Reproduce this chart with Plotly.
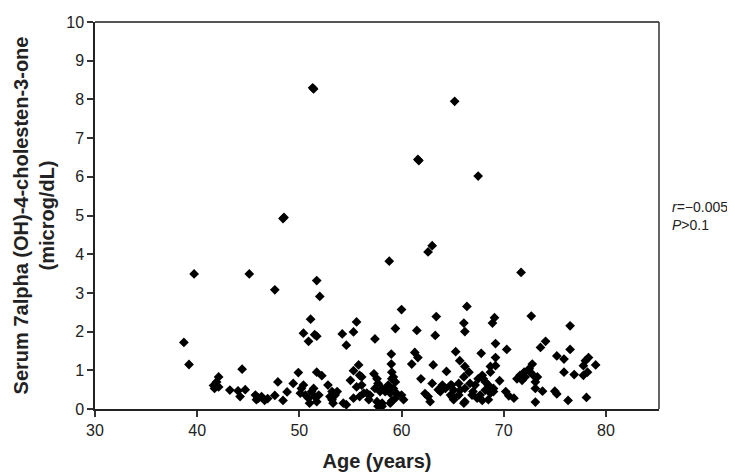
import plotly.graph_objects as go

# Age (years)
age = [
    38.7, 39.2, 39.7, 41.6, 41.7, 41.9, 42.1, 42.1, 43.2, 44.0, 44.4, 44.2, 44.7,
    45.1, 45.7, 45.8, 46.0, 46.3, 46.6, 46.9, 47.6, 47.6, 47.9, 48.4, 48.5, 48.4,
    48.8, 49.4, 49.9,
    50.2, 50.6, 50.9, 51.2, 51.4, 50.4, 50.1, 51.0, 51.7, 51.9, 51.5,
    50.4, 50.9, 51.1, 51.5, 51.7, 51.7, 52.0, 51.7, 52.2, 51.3, 51.4,
    52.8, 53.2, 53.0, 53.5, 53.7, 53.3, 53.2, 54.3, 54.6,
    54.2, 54.6, 55.3, 55.6, 55.8, 55.3, 56.1, 55.0, 55.6, 55.9, 55.3, 56.6, 56.9,
    55.9, 56.1, 56.3, 56.8,
    57.4, 57.3, 57.6, 57.4, 57.9, 58.1, 57.7, 57.7, 57.6, 58.1, 58.1, 58.4,
    58.8, 59.0, 59.0, 59.05, 59.2, 59.4, 58.7, 58.4, 58.9, 59.5, 60.0, 60.2,
    59.05, 59.05, 59.2, 59.4, 58.9, 59.4, 60.0,
    61.0, 61.3, 61.6, 61.5, 61.9, 62.3, 62.6, 62.8, 61.6, 61.7, 62.6, 63.0,
    63.0, 63.1, 63.3, 63.4, 64.4, 65.2, 65.3, 65.7, 66.2, 66.6, 66.1, 66.4, 66.1, 66.2,
    63.8, 64.3, 64.8, 65.1, 65.6, 65.75, 66.2, 66.7, 67.2, 67.5, 67.9, 68.2,
    64.8, 65.6, 66.2, 66.9, 64.9, 65.1, 66.1, 63.6, 64.0, 65.0, 67.0, 67.4, 67.9,
    67.5, 67.8, 68.0, 68.5, 68.2, 68.7, 69.0, 68.5, 67.7,
    68.7, 69.2, 69.2, 68.9, 69.1, 69.6, 70.3, 70.2, 70.5, 71.0, 71.7, 72.7, 73.6,
    74.1, 75.2, 75.9, 76.5, 76.5, 78.3, 78.0, 77.8, 79.0, 78.2, 77.8, 75.9, 76.9,
    73.1, 73.8, 75.0, 75.2, 76.3, 78.1, 73.1, 69.0, 69.2, 68.7,
    72.8, 72.5, 72.6, 72.9, 73.3, 73.1, 72.0, 71.6, 71.3, 71.8, 72.1,
]

# Serum 7alpha (OH)-4-cholesten-3-one (microg/dL)
value = [
    1.72, 1.15, 3.49, 0.61, 0.53, 0.70, 0.83, 0.57, 0.49, 0.47, 1.03, 0.32, 0.50,
    3.49, 0.36, 0.24, 0.28, 0.32, 0.22, 0.27, 3.08, 0.35, 0.70, 4.92, 4.95, 0.22,
    0.44, 0.66, 0.94,
    0.53, 0.36, 0.28, 0.45, 0.53, 0.62, 0.41, 0.15, 0.19, 0.36, 0.32,
    1.96, 1.75, 2.32, 1.92, 1.88, 3.32, 2.91, 0.95, 0.86, 8.30, 8.27,
    0.62, 0.45, 0.32, 0.36, 0.45, 0.15, 0.24, 0.15, 0.11,
    1.94, 1.65, 1.99, 2.25, 1.14, 0.99, 0.83, 0.74, 0.57, 0.32, 0.28, 0.41, 0.36,
    0.87, 0.62, 0.41, 0.24,
    1.81, 0.91, 0.78, 0.53, 0.45, 0.15, 0.07, 0.66, 0.19, 0.07, 0.53, 0.45,
    3.82, 1.42, 1.16, 0.95, 0.83, 0.70, 0.62, 0.49, 0.41, 0.41, 0.36, 0.24,
    0.21, 0.78, 0.53, 0.28, 0.15, 2.08, 2.57,
    1.16, 1.46, 1.33, 2.03, 0.78, 0.40, 0.32, 0.19, 6.45, 6.42, 4.06, 4.22,
    0.66, 1.14, 1.90, 2.39, 0.97, 7.95, 1.48, 1.25, 1.10, 0.95, 0.83, 2.65, 2.22, 2.00,
    0.45, 0.53, 0.62, 0.49, 0.66, 0.49, 0.53, 0.66, 0.62, 0.78, 0.87, 0.70,
    0.36, 0.36, 0.19, 0.36, 0.62, 0.24, 0.15, 0.50, 0.62, 0.30, 0.45, 0.28, 0.22,
    6.02, 1.44, 0.78, 0.62, 0.49, 0.41, 0.53, 0.24, 0.36,
    0.95, 1.69, 1.33, 2.22, 2.36, 0.73, 1.54, 0.45, 0.34, 0.28, 3.53, 2.40, 1.59,
    1.75, 1.37, 1.29, 2.15, 1.54, 1.33, 1.25, 1.12, 1.14, 0.95, 0.87, 0.95, 0.89,
    0.53, 0.46, 0.46, 0.39, 0.22, 0.30, 0.18, 0.45, 1.12, 1.10,
    1.16, 1.04, 0.95, 0.87, 0.83, 0.70, 0.95, 0.87, 0.78, 0.74, 0.83,
]

x_ticks = [30, 40, 50, 60, 70, 80]
y_ticks = [0, 1, 2, 3, 4, 5, 6, 7, 8, 9, 10]
stats_text = "<i>r</i>=\u22120.005<br><i>P</i>>0.1"

fig = go.Figure()
fig.add_trace(go.Scatter(
    x=age, y=value, mode="markers",
    marker=dict(symbol="diamond", size=7.5, color="black", line=dict(width=0)),
    showlegend=False, hoverinfo="x+y",
))

font_family = "Liberation Sans, Arial, sans-serif"

fig.update_layout(
    width=735, height=472,
    margin=dict(l=87, r=84, t=6, b=71),
    paper_bgcolor="white", plot_bgcolor="white",
    font=dict(family=font_family, color="#222", size=16),
    xaxis=dict(
        range=[30, 85.2], tickvals=x_ticks, ticks="outside", ticklen=6,
        tickcolor="#333", tickwidth=1.5, showline=True, linecolor="#222",
        linewidth=1.5, mirror=False, showgrid=False, zeroline=False,
        tickfont=dict(size=16, color="#222"), ticklabeloverflow="allow",
        title=dict(text="<b>Age (years)</b>", font=dict(size=20, color="#222"), standoff=16),
    ),
    yaxis=dict(
        range=[0, 10], tickvals=y_ticks, ticks="outside", ticklen=6,
        tickcolor="#333", tickwidth=1.5, showline=True, linecolor="#222",
        linewidth=1.5, showgrid=False, zeroline=False,
        tickfont=dict(size=16, color="#222"), ticklabeloverflow="allow",
        title=dict(text="<b>Serum 7alpha (OH)-4-cholesten-3-one<br>(microg/dL)</b>",
                   font=dict(size=20, color="#222"), standoff=6),
    ),
    shapes=[
        dict(type="line", xref="paper", yref="paper", x0=0, x1=1, y0=1, y1=1,
             line=dict(color="#555", width=2)),
        dict(type="line", xref="paper", yref="paper", x0=1, x1=1, y0=0, y1=1,
             line=dict(color="#333", width=1.5)),
    ],
    annotations=[
        dict(xref="paper", yref="paper", x=1.022, y=0.499, xanchor="left", yanchor="middle",
             text=stats_text, align="left", showarrow=False, borderpad=0,
             font=dict(size=14, color="#222", family=font_family)),
    ],
)

fig.write_html("out.html")
